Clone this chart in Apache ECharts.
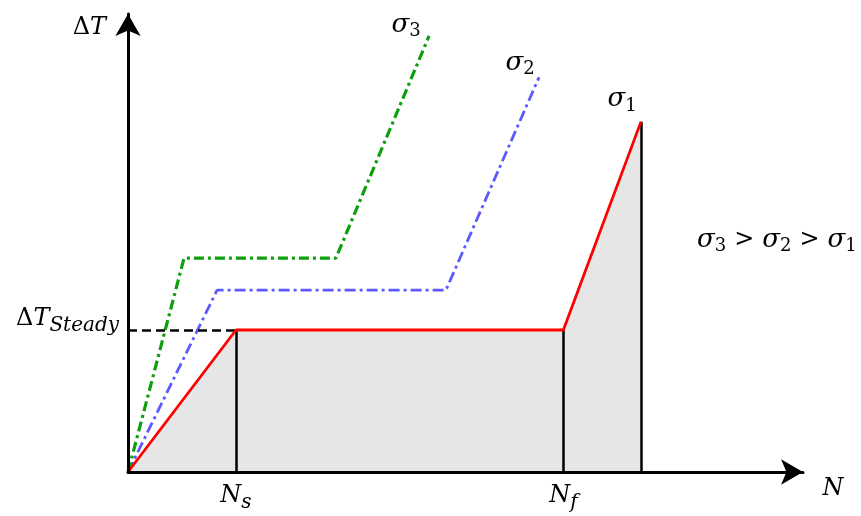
<!DOCTYPE html>
<html>
<head>
<meta charset="utf-8">
<script src="https://cdn.jsdelivr.net/npm/echarts@6/dist/echarts.min.js"></script>
<style>
  html, body { margin: 0; padding: 0; background: #ffffff; }
  #chart { width: 861px; height: 516px; }
</style>
</head>
<body>
<div id="chart"></div>
<script>
// Temperature rise ΔT against cycle count N for three stress levels (schematic units)
const sigma1 = [[0, 0], [16, 31], [64.5, 31], [76, 76.5]];
const sigma2 = [[0, 0], [13.2, 39.7], [47.1, 39.7], [60.9, 86.2]];
const sigma3 = [[0, 0], [8.3, 46.7], [30.8, 46.7], [44.6, 95.2]];
const nTicks = [16, 64.5];          // N_s, N_f
const nTickSubs = ['s', 'f'];
const steadyTicks = [31];           // ΔT_Steady
const failureN = 76;
const phaseNames = ['I', 'II', 'III'];
const sigmaNames = ['1', '2', '3'];

const MATH = '"DejaVu Serif", "Liberation Serif", serif';
const SERIF = '"Liberation Serif", "DejaVu Serif", serif';

const mathRich = {
  it:  { fontFamily: MATH, fontSize: 24, fontStyle: 'italic', color: '#000' },
  up:  { fontFamily: MATH, fontSize: 24, color: '#000' },
  sub: { fontFamily: MATH, fontSize: 20, fontStyle: 'italic', color: '#000', padding: [14, 0, 0, 0] },
  sig: { fontFamily: MATH, fontSize: 26, fontStyle: 'italic', color: '#000' },
  num: { fontFamily: MATH, fontSize: 18, color: '#000', padding: [13, 0, 0, 0] },
  op:  { fontFamily: MATH, fontSize: 24, color: '#000', padding: [0, 8, 0, 8] }
};

const chart = echarts.init(document.getElementById('chart'), null, { renderer: 'canvas' });

const steady = steadyTicks[0];
const [nS, nF] = nTicks;
const sigma1Top = sigma1[sigma1.length - 1];

const axisLineStyle = {
  show: true, onZero: false,
  lineStyle: { color: '#000', width: 3 },
  symbol: ['none', 'arrow'], symbolSize: [19, 22], symbolOffset: [0, 0]
};

const option = {
  animation: false,
  backgroundColor: '#ffffff',
  grid: { left: 128, right: 58, top: 14, bottom: 44, outerBoundsMode: 'none', containLabel: false },
  xAxis: {
    type: 'value', min: 0, max: 100, z: 10,
    axisLine: axisLineStyle,
    axisTick: { show: false },
    splitLine: { show: false },
    axisLabel: {
      customValues: nTicks, margin: 7,
      formatter: v => '{it|N}{sub|' + nTickSubs[nTicks.indexOf(v)] + '}',
      rich: mathRich
    }
  },
  yAxis: {
    type: 'value', min: 0, max: 100, z: 10,
    axisLine: axisLineStyle,
    axisTick: { show: false },
    splitLine: { show: false },
    axisLabel: {
      customValues: steadyTicks, margin: 9, padding: [0, 0, 22, 0],
      formatter: () => '{up|Δ}{it|T}{sub|Steady}',
      rich: mathRich
    }
  },
  series: [
    {
      // shaded region under the σ1 curve plus phase boundaries
      type: 'line', data: sigma1, symbol: 'none', z: 1, silent: true,
      lineStyle: { width: 0, opacity: 0 },
      areaStyle: { color: '#e6e6e6', opacity: 1 },
      markLine: {
        silent: true, symbol: ['none', 'none'], animation: false,
        label: { show: false },
        lineStyle: { color: '#000', width: 2.5, type: 'solid' },
        emphasis: { disabled: true },
        data: [
          [{ coord: [nS, 0] }, { coord: [nS, steady] }],
          [{ coord: [nF, 0] }, { coord: [nF, steady] }],
          [{ coord: [failureN, 0] }, { coord: sigma1Top }],
          [{ coord: [0, steady], lineStyle: { type: [9, 5], width: 2.5, color: '#000' } }, { coord: [nS, steady] }]
        ]
      }
    },
    {
      type: 'line', data: sigma2, symbol: 'none', z: 4, silent: true,
      lineStyle: { color: '#5a5aff', width: 2.8, type: [11, 4, 3, 4] }
    },
    {
      type: 'line', data: sigma3, symbol: 'none', z: 4, silent: true,
      lineStyle: { color: '#0e9e0e', width: 3.2, type: [10, 4, 3, 4] }
    },
    {
      type: 'line', data: sigma1, symbol: 'none', z: 6, silent: true,
      lineStyle: { color: '#ff0000', width: 2.8 }
    }
  ]
};
chart.setOption(option);

// Annotations placed relative to the plotted curves
const px = p => chart.convertToPixel({ gridIndex: 0 }, p);
const ends = [sigma1, sigma2, sigma3].map(s => px(s[s.length - 1]));
const sigmaOffsets = [[-19, -22], [-19, -14], [-23, -11]];

const graphics = [];
ends.forEach((e, i) => {
  graphics.push({
    type: 'text', x: e[0] + sigmaOffsets[i][0], y: e[1] + sigmaOffsets[i][1],
    style: {
      text: '{sig|σ}{num|' + sigmaNames[i] + '}', rich: mathRich,
      align: 'center', verticalAlign: 'middle'
    }
  });
});

// Axis names
const origin = px([0, 0]);
graphics.push({
  type: 'text', x: origin[0] - 22, y: 28,
  style: { text: '{up|Δ}{it|T}', rich: mathRich, align: 'right', verticalAlign: 'middle' }
});
graphics.push({
  type: 'text', x: 833, y: 489,
  style: { text: '{it|N}', rich: mathRich, align: 'center', verticalAlign: 'middle' }
});

// Ordering of the stress levels
graphics.push({
  type: 'text', x: 697, y: 240,
  style: {
    text: '{sig|σ}{num|3}{op|>}{sig|σ}{num|2}{op|>}{sig|σ}{num|1}',
    rich: mathRich, align: 'left', verticalAlign: 'middle'
  }
});

// Phase labels
const phaseCenters = [[201, 431], [367, 428], [599, 426]];
phaseNames.forEach((name, i) => {
  graphics.push({
    type: 'text', x: phaseCenters[i][0], y: phaseCenters[i][1],
    style: {
      text: 'Phase\n' + name, fontFamily: SERIF, fontSize: 17.5, lineHeight: 22,
      fill: '#1a1a1a', align: 'center', verticalAlign: 'middle'
    }
  });
});

chart.setOption({ graphic: graphics });
</script>
</body>
</html>
